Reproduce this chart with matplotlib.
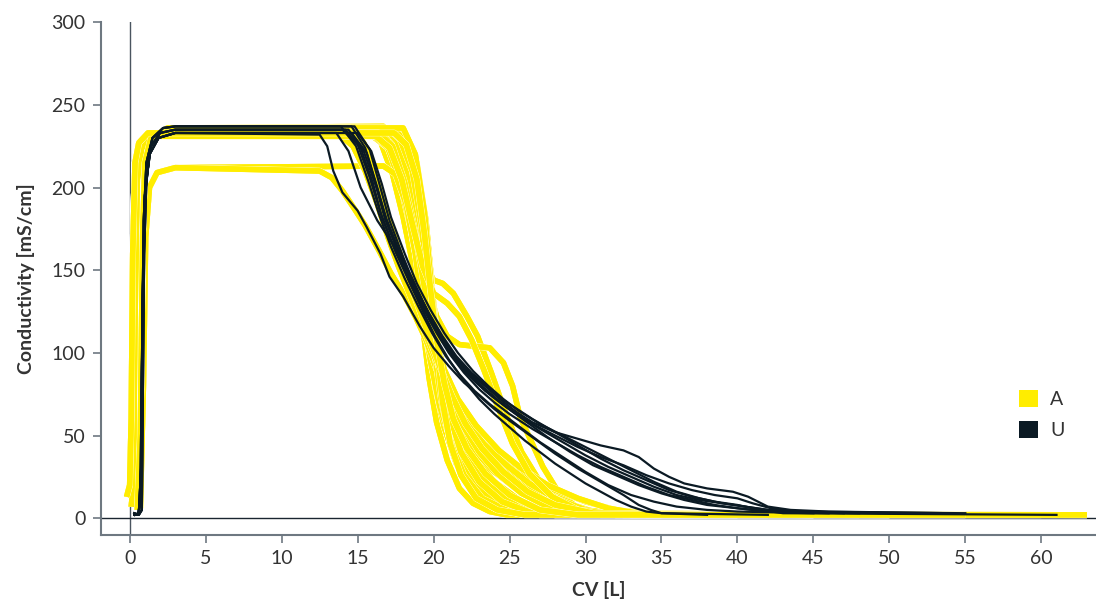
import matplotlib
matplotlib.use("Agg")
import matplotlib.pyplot as plt
import matplotlib.patheffects as pe
from matplotlib.patches import Patch

plt.rcParams['font.family'] = ['Lato', 'DejaVu Sans']

YELLOW = '#FFED00'
NAVY = '#0b1a24'
GREY = '#6e7881'
TEXT = '#333333'

# --- start-up shapes (shared by several runs) ---
a_start1 = [(-0.2, 13), (0.0, 20), (0.1, 60), (0.2, 160), (0.35, 215), (0.6, 227), (1.2, 233)]
a_start2 = [(0.1, 7), (0.25, 20), (0.35, 120), (0.5, 205), (0.8, 224), (1.5, 231)]
a_start3 = [(0.5, 5), (0.7, 50), (0.85, 170), (1.0, 215), (1.4, 230), (2.5, 236)]
a_start_low = [(0.7, 6), (0.9, 80), (1.05, 170), (1.3, 200), (1.8, 209), (3.0, 212)]
u_start1 = [(0.3, 3), (0.6, 2), (0.8, 5), (0.85, 60), (0.95, 160), (1.1, 205), (1.4, 225), (2.0, 233), (3.0, 235)]
u_start2 = [(0.35, 2), (0.6, 3), (0.75, 30), (0.85, 130), (1.0, 195), (1.3, 220), (1.9, 230), (3.0, 233)]
u_start3 = [(0.3, 2), (0.55, 2), (0.7, 10), (0.8, 90), (0.92, 180), (1.1, 215), (1.5, 230), (2.2, 236), (3.0, 237)]

# --- A runs: (CV [L], conductivity [mS/cm]) after start-up ---
a01 = [(16.0, 233), (17.0, 229), (17.8, 212), (18.4, 185), (18.9, 150), (19.3, 115), (19.7, 85), (20.2, 58), (20.9, 35), (21.7, 18), (22.6, 9), (23.7, 4), (24.8, 2), (40, 2)]
a02 = [(16.5, 231), (17.4, 227), (18.2, 210), (18.8, 180), (19.3, 145), (19.7, 110), (20.1, 80), (20.7, 55), (21.5, 33), (22.5, 17), (23.8, 7), (25.5, 3), (45, 2)]
a03 = [(17.0, 236), (17.9, 228), (18.6, 205), (19.2, 170), (19.6, 135), (20.0, 100), (20.5, 72), (21.2, 50), (22.2, 32), (23.5, 18), (25.0, 8), (27.0, 3), (50, 2)]
a04 = [(17.3, 233), (18.2, 225), (18.9, 200), (19.5, 160), (19.9, 125), (20.3, 95), (20.9, 68), (21.8, 45), (23.0, 28), (24.5, 14), (26.0, 6), (28.0, 2), (63, 2)]
a05 = [(17.6, 232), (18.5, 222), (19.2, 195), (19.7, 160), (20.1, 120), (20.5, 90), (21.1, 62), (22.0, 40), (23.2, 24), (24.8, 12), (26.8, 5), (29.0, 2), (55, 2)]
a06 = [(17.2, 236), (18.0, 227), (18.8, 200), (19.4, 165), (19.8, 130), (20.2, 100), (20.8, 75), (21.6, 55), (22.6, 38), (24.0, 22), (25.8, 10), (28.0, 3), (45, 2)]
a07 = [(15.5, 234), (16.5, 228), (17.3, 208), (18.0, 182), (18.6, 155), (19.2, 125), (19.8, 95), (20.4, 70), (21.2, 48), (22.3, 28), (23.8, 13), (25.8, 4), (28, 2), (42, 2)]
a08 = [(16.0, 231), (17.0, 224), (17.8, 205), (18.6, 178), (19.4, 155), (20.0, 144), (20.6, 142), (21.3, 136), (22.2, 122), (22.9, 110), (23.8, 88), (24.8, 62), (25.8, 40), (27.0, 22), (28.5, 10), (30.5, 4), (33, 2), (63, 2)]
a09 = [(16.5, 236), (17.4, 227), (18.2, 205), (18.9, 175), (19.5, 145), (20.2, 122), (20.9, 110), (21.7, 105), (22.7, 104), (23.7, 103), (24.6, 94), (25.2, 80), (25.7, 61), (26.4, 47), (27.2, 31), (28.2, 16), (29.5, 6), (31.0, 2), (63, 2)]
a10 = [(17.8, 234), (18.6, 220), (19.2, 190), (19.7, 150), (20.1, 110), (20.5, 78), (21.0, 50), (21.7, 30), (22.7, 15), (24.0, 6), (26.0, 2), (40, 2)]
a11 = [(18.0, 231), (18.9, 215), (19.5, 180), (19.9, 140), (20.3, 100), (20.8, 65), (21.4, 40), (22.3, 22), (23.5, 10), (25.0, 4), (27.0, 2), (35, 2)]
a12 = [(16.7, 237), (17.6, 228), (18.4, 203), (19.0, 170), (19.5, 135), (20.0, 105), (20.6, 80), (21.5, 58), (22.6, 42), (24.0, 28), (25.8, 15), (28.0, 7), (30.5, 3), (48, 2)]
a13 = [(16.3, 234), (17.2, 225), (18.0, 200), (18.7, 168), (19.3, 135), (19.9, 108), (20.6, 85), (21.5, 66), (22.8, 50), (24.3, 37), (26.0, 26), (28.0, 17), (30.0, 10), (32.0, 5), (35.0, 2), (60, 2)]
a14 = [(16.0, 232), (17.0, 224), (17.8, 203), (18.5, 175), (19.1, 145), (19.7, 115), (20.4, 90), (21.3, 70), (22.5, 52), (24.0, 36), (25.5, 22), (27.5, 10), (29.5, 4), (32.0, 2), (50, 2)]
a15 = [(16.7, 213), (17.5, 208), (18.2, 190), (18.8, 160), (19.3, 125), (19.8, 95), (20.4, 68), (21.2, 45), (22.2, 27), (23.5, 13), (25.5, 5), (28, 2), (45, 2)]
a16 = [(12.5, 210), (13.3, 206), (14.0, 198), (14.8, 187), (15.5, 177), (16.4, 162), (17.2, 148), (18.0, 136), (18.8, 122), (19.5, 108), (20.2, 90), (21.0, 72), (22.0, 55), (23.0, 40), (24.2, 27), (25.8, 15), (27.5, 7), (30.0, 3), (33, 2), (50, 2)]
a17 = [(17.0, 236), (17.8, 229), (18.6, 210), (19.2, 178), (19.6, 140), (20.0, 105), (20.5, 72), (21.1, 46), (22.0, 26), (23.2, 12), (25.0, 4), (27.0, 2), (38, 2)]
a18 = [(17.5, 234), (18.4, 226), (19.1, 200), (19.6, 165), (20.0, 128), (20.4, 95), (21.0, 64), (21.8, 40), (23.0, 22), (24.5, 10), (26.5, 3), (63, 2)]
a19 = [(13.8, 232), (14.7, 225), (15.5, 210), (16.3, 190), (17.0, 170), (17.7, 152), (18.4, 136), (19.1, 120), (19.8, 104), (20.5, 88), (21.3, 72), (22.2, 58), (23.3, 45), (24.8, 32), (26.3, 21), (28.0, 12), (30.0, 5), (32.5, 2), (45, 2)]
a20 = [(18.0, 236), (18.8, 220), (19.4, 185), (19.8, 145), (20.2, 105), (20.6, 70), (21.1, 45), (21.8, 26), (22.8, 12), (24.2, 5), (26.0, 2), (35, 2)]
a21 = [(16.4, 233), (17.3, 225), (18.1, 203), (18.8, 172), (19.4, 140), (20.0, 112), (20.7, 90), (21.6, 72), (22.8, 56), (24.3, 41), (25.8, 30), (27.5, 20), (29.5, 12), (31.5, 6), (34.0, 2), (63, 2)]
a22 = [(16.2, 231), (17.1, 224), (17.9, 205), (18.6, 178), (19.3, 152), (20.0, 136), (20.9, 130), (21.7, 122), (22.5, 108), (23.3, 90), (24.2, 68), (25.2, 45), (26.3, 27), (27.8, 13), (29.5, 5), (32, 2), (50, 2)]
a23 = [(14.5, 236), (15.4, 227), (16.2, 206), (16.9, 185), (17.6, 165), (18.3, 146), (19.0, 128), (19.7, 110), (20.4, 92), (21.2, 74), (22.1, 57), (23.2, 42), (24.6, 28), (26.2, 16), (28.0, 8), (30.5, 3), (40, 2)]
a24 = [(17.4, 233), (18.2, 226), (18.9, 205), (19.4, 172), (19.8, 138), (20.2, 108), (20.7, 82), (21.3, 60), (22.2, 42), (23.4, 27), (25.0, 14), (27.0, 5), (29.5, 2), (55, 2)]

# --- U runs ---
u01 = [(12.5, 232), (13.0, 225), (13.4, 210), (14.0, 197), (15.0, 186), (15.6, 176), (16.5, 160), (17.1, 146), (18.0, 134), (19.1, 116), (20.0, 103), (21.0, 92), (22.0, 82), (23.0, 74), (24.0, 66), (25.0, 59), (26.5, 49), (28.0, 39), (29.5, 30), (31.0, 22), (32.5, 14), (33.5, 8), (34.3, 5), (35.0, 3), (42, 2)]
u02 = [(13.6, 233), (14.4, 222), (15.2, 200), (16.3, 180), (17.6, 162), (18.6, 145), (19.6, 125), (20.5, 108), (21.5, 96), (22.5, 87), (23.5, 79), (24.5, 71), (25.5, 64), (26.5, 58), (28.0, 52), (29.5, 48), (31.0, 44), (32.5, 41), (33.5, 37), (34.5, 30), (35.5, 25), (36.5, 21), (38.0, 18), (39.7, 16), (40.7, 13), (42.0, 7), (43.5, 5), (46.0, 4), (54, 3)]
u03 = [(14.8, 237), (15.8, 223), (16.5, 200), (17.1, 180), (18.0, 158), (18.8, 140), (19.7, 124), (20.6, 110), (21.5, 98), (22.5, 88), (23.5, 80), (24.5, 72), (25.5, 66), (26.5, 60), (28.0, 52), (29.5, 44), (31.0, 36), (32.5, 29), (34.0, 23), (35.5, 17), (37.0, 13), (38.5, 10), (40.0, 8), (41.5, 5), (43.0, 3), (61, 2)]
u04 = [(14.2, 235), (15.2, 224), (16.0, 203), (16.6, 182), (17.5, 161), (18.4, 143), (19.3, 127), (20.2, 112), (21.0, 100), (22.0, 88), (23.0, 78), (24.0, 70), (25.0, 63), (26.5, 54), (28.0, 46), (29.5, 38), (31.0, 31), (32.5, 25), (34.0, 19), (35.5, 14), (37.0, 11), (38.5, 8), (40.0, 6), (42.0, 4), (48, 3)]
u05 = [(14.6, 233), (15.6, 221), (16.3, 200), (16.9, 180), (17.8, 160), (18.6, 142), (19.5, 127), (20.4, 112), (21.3, 99), (22.3, 88), (23.3, 79), (24.3, 71), (25.3, 64), (26.5, 57), (28.0, 50), (29.5, 43), (31.0, 37), (32.5, 32), (34.0, 26), (35.5, 21), (37.0, 17), (38.5, 14), (40.0, 12), (41.0, 9), (42.2, 6), (44.0, 4), (50, 3)]
u06 = [(13.9, 237), (14.9, 225), (15.7, 204), (16.4, 184), (17.2, 164), (18.1, 145), (19.0, 128), (19.9, 112), (20.8, 98), (21.7, 87), (22.7, 77), (23.7, 69), (24.7, 62), (25.7, 55), (27.0, 46), (28.5, 37), (30.0, 28), (31.5, 20), (33.0, 14), (34.5, 10), (36.0, 7), (38.0, 5), (40.0, 4), (45, 3)]
u07 = [(14.4, 235), (15.4, 222), (16.2, 201), (16.8, 181), (17.7, 160), (18.5, 141), (19.3, 125), (20.1, 110), (21.0, 96), (22.0, 83), (23.0, 72), (24.0, 63), (25.0, 55), (26.0, 47), (27.0, 40), (28.0, 33), (29.0, 27), (30.0, 21), (31.0, 16), (32.0, 11), (33.0, 7), (34.0, 4), (35.0, 3), (38, 2)]
u08 = [(15.0, 233), (15.9, 222), (16.6, 202), (17.2, 182), (18.1, 160), (18.9, 142), (19.8, 126), (20.7, 112), (21.6, 100), (22.6, 89), (23.6, 80), (24.6, 72), (25.6, 65), (27.0, 57), (28.5, 50), (30.0, 43), (31.5, 36), (33.0, 29), (34.5, 22), (36.0, 16), (37.5, 12), (39.0, 9), (40.5, 7), (42.0, 5), (43.5, 4), (47, 3)]
u09 = [(14.6, 237), (15.5, 224), (16.2, 202), (16.9, 181), (17.8, 160), (18.7, 141), (19.6, 124), (20.5, 109), (21.4, 97), (22.4, 86), (23.4, 77), (24.4, 70), (25.6, 62), (27.0, 54), (28.5, 46), (30.0, 38), (31.5, 31), (33.0, 25), (34.5, 19), (36.0, 14), (37.5, 11), (39.0, 9), (40.5, 7), (42.0, 5), (44.0, 4), (55, 3)]
u10 = [(14.0, 235), (15.0, 226), (15.8, 206), (16.5, 185), (17.3, 166), (18.2, 148), (19.1, 131), (20.0, 116), (20.9, 102), (21.8, 91), (22.8, 82), (23.8, 74), (24.8, 67), (26.0, 59), (27.5, 49), (29.0, 40), (30.5, 32), (32.0, 26), (33.5, 20), (35.0, 15), (36.5, 11), (38.0, 8), (40.0, 6), (42.0, 4), (46, 3)]

A_RUNS = [
    (a_start1, a01), (a_start2, a02), (a_start3, a03), (a_start1, a04), (a_start2, a05),
    (a_start3, a06), (a_start1, a07), (a_start2, a08), (a_start3, a09), (a_start1, a10),
    (a_start2, a11), (a_start3, a12), (a_start1, a13), (a_start2, a14), (a_start_low, a15),
    (a_start_low, a16), (a_start3, a17), (a_start1, a18), (a_start2, a19), (a_start3, a20),
    (a_start1, a21), (a_start2, a22), (a_start3, a23), (a_start1, a24),
]
U_RUNS = [
    (u_start2, u01), (u_start2, u02), (u_start3, u03), (u_start1, u04), (u_start2, u05),
    (u_start3, u06), (u_start1, u07), (u_start2, u08), (u_start3, u09), (u_start1, u10),
]

fig = plt.figure(figsize=(10.96, 6.0), dpi=100)
ax = fig.add_axes([0.092, 0.108, 0.908, 0.855])

# reference lines at zero
ax.axvline(0, color='#4a5560', lw=1.0, zorder=1)
ax.axhline(0, color='#1a2530', lw=1.0, zorder=1)

for start, tail in A_RUNS:
    pts = start + tail
    ax.plot([p[0] for p in pts], [p[1] for p in pts], color=YELLOW, lw=4.0,
            solid_joinstyle='round', solid_capstyle='butt', zorder=2,
            path_effects=[pe.withStroke(linewidth=4.7, foreground='white'), pe.Normal()])

for start, tail in U_RUNS:
    pts = start + tail
    ax.plot([p[0] for p in pts], [p[1] for p in pts], color=NAVY, lw=1.6,
            solid_joinstyle='round', zorder=3)

ax.set_xlim(-1.9, 63.6)
ax.set_ylim(-10.3, 300)
ax.set_xticks(range(0, 61, 5))
ax.set_yticks(range(0, 301, 50))

for s in ['top', 'right']:
    ax.spines[s].set_visible(False)
for s in ['left', 'bottom']:
    ax.spines[s].set_color(GREY)
    ax.spines[s].set_linewidth(1.5)
ax.tick_params(colors=GREY, labelcolor=TEXT, labelsize=14, length=6, width=1.2, pad=5)

ax.set_xlabel('CV [L]', fontsize=14, color=TEXT, fontweight='bold', labelpad=10)
ax.set_ylabel('Conductivity [mS/cm]', fontsize=14, color=TEXT, fontweight='bold', labelpad=12)

handles = [Patch(facecolor=YELLOW, label='A'), Patch(facecolor=NAVY, label='U')]
leg = ax.legend(handles=handles, loc='center left', bbox_to_anchor=(0.905, 0.235),
                frameon=False, fontsize=14, handlelength=1.0, handleheight=1.0,
                handletextpad=0.6, labelspacing=0.65)
for t in leg.get_texts():
    t.set_color(TEXT)

fig.savefig('out.png', dpi=100)
